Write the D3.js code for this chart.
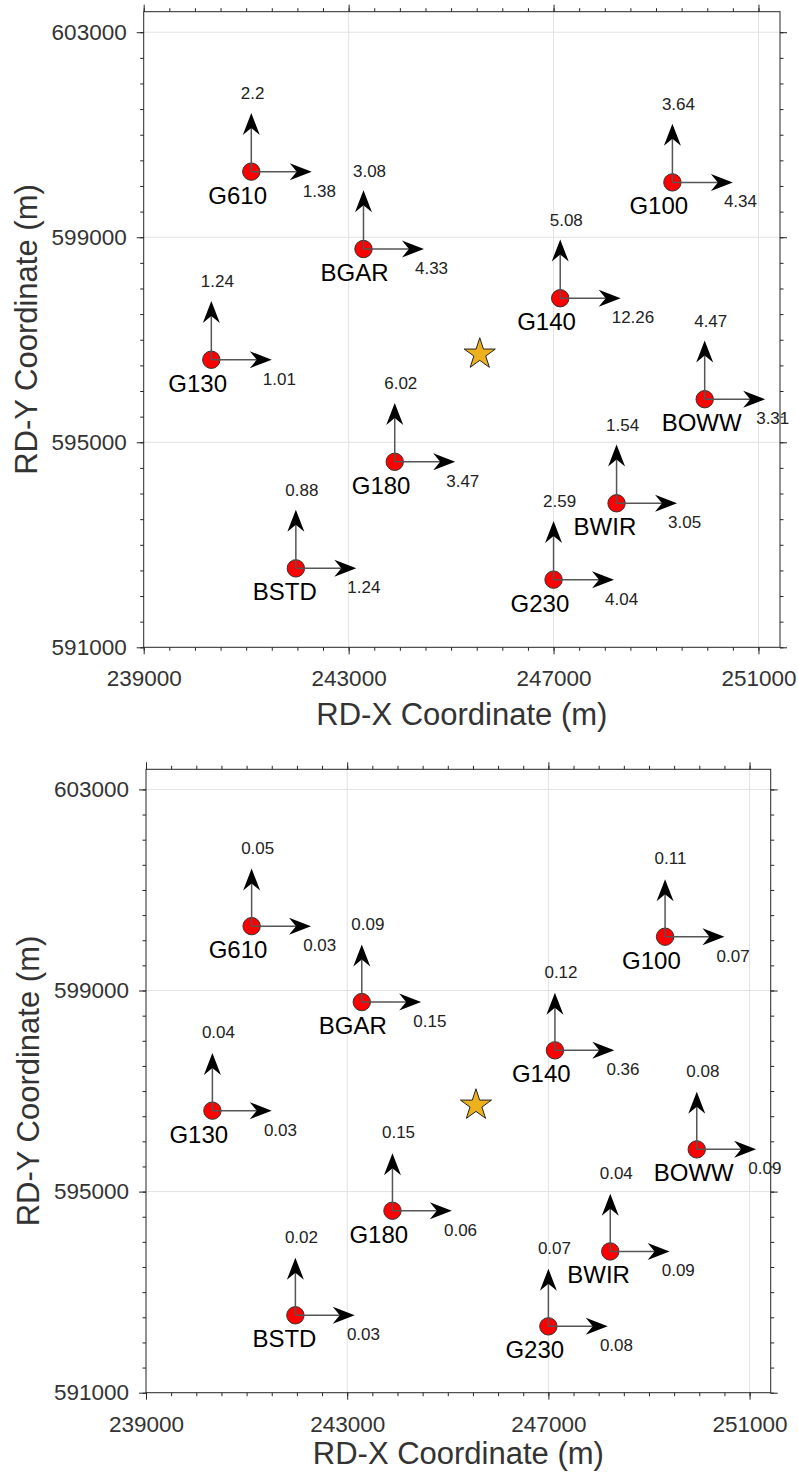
<!DOCTYPE html>
<html>
<head>
<meta charset="utf-8">
<script src="https://cdn.jsdelivr.net/npm/d3@7"></script>
<style>
    body { margin: 0; background: #fff; }
    svg { display: block; font-family: 'Liberation Sans', Arial, Helvetica, sans-serif; }
    .tickLabel { font-size: 22.5px; fill: #333; }
    .axisTitle { font-size: 31px; fill: #333; }
    .stationName { font-size: 24px; fill: #000; }
    .valueLabel { font-size: 17px; fill: #222; }
</style>
</head>
<body>
<div id="quiverChart"></div>
<script>
// stations (RD coordinates in m)
const stations = ['G610', 'BGAR', 'G100', 'G140', 'G130', 'BOWW', 'G180', 'BWIR', 'BSTD', 'G230'];
const rdX = [241100, 243290, 249320, 247130, 240320, 249950, 243900, 248230, 241970, 247000];
const rdY = [600280, 598770, 600070, 597810, 596610, 595840, 594620, 593810, 592540, 592320];

// epicentre (star)
const sourceX = [245560];
const sourceY = [596720];

// top panel values
const northTop = [2.2, 3.08, 3.64, 5.08, 1.24, 4.47, 6.02, 1.54, 0.88, 2.59];
const eastTop = [1.38, 4.33, 4.34, 12.26, 1.01, 3.31, 3.47, 3.05, 1.24, 4.04];

// bottom panel values
const northBottom = [0.05, 0.09, 0.11, 0.12, 0.04, 0.08, 0.15, 0.04, 0.02, 0.07];
const eastBottom = [0.03, 0.15, 0.07, 0.36, 0.03, 0.09, 0.06, 0.09, 0.03, 0.08];

// axes
const xDomain = [239000, 251420];
const yDomain = [591000, 603400];
const xTicks = [239000, 243000, 247000, 251000];
const yTicks = [591000, 595000, 599000, 603000];
const minorStep = 500;

let quiverMap = function(){
    this._selection = null;
    this._box = null;
    this._north = null;
    this._east = null;
    this._arrowX = 1180;   // arrow length in m
    this._arrowY = 1145;

    //SETTERS
    this.selection = function(){
        if(arguments.length > 0){ this._selection = arguments[0]; return this; }
        else return this._selection;
    }
    this.box = function(){
        if(arguments.length > 0){ this._box = arguments[0]; return this; }
        else return this._box;
    }
    this.values = function(north, east){
        this._north = north;
        this._east = east;
        return this;
    }

    //FUNCTIONS
    this.draw = function(){
        let b = this._box;
        let xScale = d3.scaleLinear().domain(xDomain).range([b.left, b.right]);
        let yScale = d3.scaleLinear().domain(yDomain).range([b.bottom, b.top]);
        let minorX = d3.range(xDomain[0], xDomain[1], minorStep);
        let minorY = d3.range(yDomain[0], yDomain[1], minorStep);

        let canvas = this._selection.append('g');

        // grid
        canvas.append('g').selectAll('line')
            .data(xTicks.slice(1))
            .join('line')
            .attr('x1', d => xScale(d)).attr('x2', d => xScale(d))
            .attr('y1', b.top).attr('y2', b.bottom)
            .attr('stroke', '#e2e2e2');
        canvas.append('g').selectAll('line')
            .data(yTicks.slice(1))
            .join('line')
            .attr('y1', d => yScale(d)).attr('y2', d => yScale(d))
            .attr('x1', b.left).attr('x2', b.right)
            .attr('stroke', '#e2e2e2');

        // axes (major + minor, ticks outside on all sides)
        let axes = [
            [d3.axisBottom, xScale, `translate(0,${b.bottom})`, xTicks, minorX, 16, true],
            [d3.axisTop, xScale, `translate(0,${b.top})`, xTicks, minorX, 10, false],
            [d3.axisLeft, yScale, `translate(${b.left},0)`, yTicks, minorY, 10, true],
            [d3.axisRight, yScale, `translate(${b.right},0)`, yTicks, minorY, 10, false]
        ];
        axes.forEach(a => {
            canvas.append('g').attr('transform', a[2])
                .call(a[0](a[1]).tickValues(a[4]).tickSize(3.5).tickSizeOuter(0).tickFormat(''));
            canvas.append('g').attr('transform', a[2])
                .call(a[0](a[1]).tickValues(a[3]).tickSize(7).tickSizeOuter(0)
                    .tickPadding(a[5])
                    .tickFormat(a[6] ? d3.format('d') : ''));
        });
        canvas.selectAll('.domain').remove();
        canvas.selectAll('.tick line').attr('stroke', '#262626');
        canvas.selectAll('.tick text')
            .attr('class', 'tickLabel')
            .attr('fill', null);
        canvas.selectAll('g').attr('font-size', null).attr('font-family', null);

        canvas.append('rect')
            .attr('x', b.left).attr('y', b.top)
            .attr('width', b.right - b.left).attr('height', b.bottom - b.top)
            .attr('fill', 'none').attr('stroke', '#262626').attr('stroke-width', 1);

        // axis titles
        canvas.append('text')
            .attr('class', 'axisTitle')
            .attr('x', (b.left + b.right) / 2)
            .attr('y', b.xTitle)
            .attr('text-anchor', 'middle')
            .text('RD-X Coordinate (m)');
        canvas.append('text')
            .attr('class', 'axisTitle')
            .attr('transform', `translate(${b.yTitle}, ${(b.top + b.bottom) / 2}) rotate(-90)`)
            .attr('text-anchor', 'middle')
            .text('RD-Y Coordinate (m)');

        // star
        canvas.append('path')
            .attr('d', d3.symbol().type(d3.symbolStar).size(300))
            .attr('transform', `translate(${xScale(sourceX[0])}, ${yScale(sourceY[0])})`)
            .attr('fill', '#EDB120')
            .attr('stroke', '#222')
            .attr('stroke-width', 1);

        let data = stations.map((s, i) => ({
            name: s, x: rdX[i], y: rdY[i], n: this._north[i], e: this._east[i]
        }));
        let ax = this._arrowX, ay = this._arrowY;

        let st = canvas.append('g').selectAll('g')
            .data(data)
            .join('g');

        st.append('circle')
            .attr('cx', d => xScale(d.x))
            .attr('cy', d => yScale(d.y))
            .attr('r', 8.7)
            .attr('fill', '#ff0000')
            .attr('stroke', '#333')
            .attr('stroke-width', 1);

        // shafts
        st.append('line')
            .attr('x1', d => xScale(d.x)).attr('y1', d => yScale(d.y))
            .attr('x2', d => xScale(d.x)).attr('y2', d => yScale(d.y + ay) + 15)
            .attr('stroke', '#555').attr('stroke-width', 1.5);
        st.append('line')
            .attr('x1', d => xScale(d.x)).attr('y1', d => yScale(d.y))
            .attr('x2', d => xScale(d.x + ax) - 15).attr('y2', d => yScale(d.y))
            .attr('stroke', '#555').attr('stroke-width', 1.5);

        // heads
        st.append('path')
            .attr('d', d => {
                let cx = xScale(d.x), ty = yScale(d.y + ay);
                return `M${cx},${ty}L${cx - 8.5},${ty + 22}L${cx},${ty + 15}L${cx + 8.5},${ty + 22}Z`;
            })
            .attr('fill', '#000');
        st.append('path')
            .attr('d', d => {
                let tx = xScale(d.x + ax), cy = yScale(d.y);
                return `M${tx},${cy}L${tx - 22},${cy - 8.5}L${tx - 15},${cy}L${tx - 22},${cy + 8.5}Z`;
            })
            .attr('fill', '#000');

        // labels
        st.append('text')
            .attr('class', 'stationName')
            .attr('x', d => xScale(d.x) - 43)
            .attr('y', d => yScale(d.y) + 32)
            .text(d => d.name);
        st.append('text')
            .attr('class', 'valueLabel')
            .attr('x', d => xScale(d.x) - 10.5)
            .attr('y', d => yScale(d.y) - 72.5)
            .text(d => String(d.n));
        st.append('text')
            .attr('class', 'valueLabel')
            .attr('x', d => xScale(d.x) + 51.5)
            .attr('y', d => yScale(d.y) + 25)
            .text(d => String(d.e));
    }
}

let svg = d3.select('#quiverChart')
    .append('svg')
    .attr('width', 798)
    .attr('height', 1476);

new quiverMap()
    .selection(svg)
    .box({left: 143.7, right: 780, top: 11.7, bottom: 647.3, xTitle: 725, yTitle: 37})
    .values(northTop, eastTop)
    .draw();

new quiverMap()
    .selection(svg)
    .box({left: 146, right: 770.7, top: 769.3, bottom: 1392.7, xTitle: 1464, yTitle: 39})
    .values(northBottom, eastBottom)
    .draw();
</script>
</body>
</html>
